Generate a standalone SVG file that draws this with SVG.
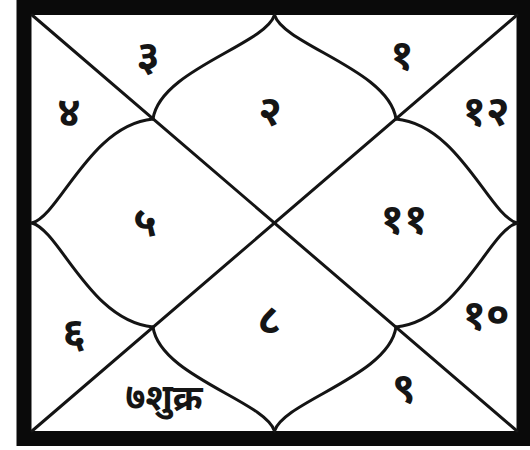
<svg xmlns="http://www.w3.org/2000/svg" width="530" height="450" viewBox="0 0 530 450">
<style>
.frame{fill:#fff;stroke:#0a0a0a;stroke-width:15}
.ln{fill:none;stroke:#141414;stroke-width:3;stroke-linecap:round}
.lbl{font-family:"Noto Sans","DejaVu Sans",sans-serif;font-size:42px;font-weight:bold;fill:#151515;text-anchor:middle;dominant-baseline:central}
.lbl7{font-size:36px}
</style>
<rect width="530" height="450" fill="#fff"/>
<rect class="frame" x="24" y="7.5" width="500" height="431"/>
<g id="connectors">
<path class="ln" d="M32,15 L517,431"/>
<path class="ln" d="M517,15 L32,431"/>
<path class="ln" d="M274.5,15 C265,45 160,70 153,119"/>
<path class="ln" d="M274.5,15 C284,45 389,70 396,119"/>
<path class="ln" d="M274.5,431 C265,401 160,376 153,327"/>
<path class="ln" d="M274.5,431 C284,401 389,376 396,327"/>
<path class="ln" d="M32,223 C60,215 90,125 153,119"/>
<path class="ln" d="M32,223 C60,231 90,321 153,327"/>
<path class="ln" d="M517,223 C489,215 459,125 396,119"/>
<path class="ln" d="M517,223 C489,231 459,321 396,327"/>
</g>
<g id="h3"><text class="lbl" x="148" y="53">३</text></g>
<g id="h1"><text class="lbl" x="402" y="52">१</text></g>
<g id="h4"><text class="lbl" x="69" y="109">४</text></g>
<g id="h2"><text class="lbl" x="270" y="108">२</text></g>
<g id="h12"><text class="lbl" x="486" y="108">१२</text></g>
<g id="h5"><text class="lbl" x="145" y="219">५</text></g>
<g id="h11"><text class="lbl" x="404" y="216">११</text></g>
<g id="h6"><text class="lbl" x="74" y="330">६</text></g>
<g id="h8"><text class="lbl" x="269" y="317">८</text></g>
<g id="h10"><text class="lbl" x="486" y="312">१०</text></g>
<g id="h7"><text class="lbl lbl7" x="164" y="396">७शुक्र</text></g>
<g id="h9"><text class="lbl" x="404" y="385">९</text></g>
</svg>
